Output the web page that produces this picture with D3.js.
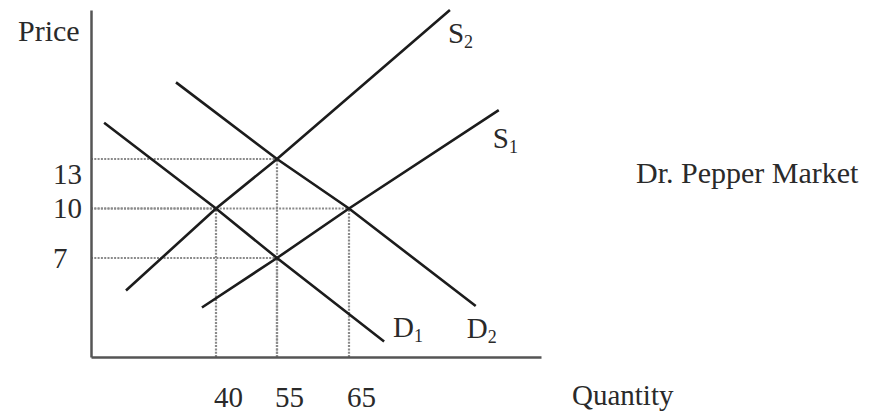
<!DOCTYPE html>
<html>
<head>
<meta charset="utf-8">
<script src="https://d3js.org/d3.v7.min.js"></script>
<style>
  body { margin: 0; background: #fff; }
  text { font-family: "Liberation Serif", "Times New Roman", serif; fill: #2a2a2a; }
</style>
</head>
<body>
<div id="my_dataviz"></div>
<script>
// chart values (schematic supply/demand diagram)
var quantityTicks = [40, 55, 65]
var priceTicks = [13, 10, 7]
var quantityMax = 100
var priceMax = 20

// equilibrium points [quantity, price]
var equilibria = [[40, 10], [55, 13], [55, 7], [65, 10]]

// curves: both ends plus the equilibria they pass through
var curveNames = ["D1", "D2", "S1", "S2"]
var demand1 = [[4.2, 14.7], [40, 10], [55, 7], [71.4, 1.1]]
var demand2 = [[27.2, 16.6], [55, 13], [65, 10], [88.1, 3.6]]
var supply1 = [[35.5, 3.5], [55, 7], [65, 10], [92.3, 15.3]]
var supply2 = [[11.2, 4.7], [40, 10], [55, 13], [83.4, 20.0]]
var curves = [demand1, demand2, supply1, supply2]

// set the dimensions of the graph
var width = 869
    height = 416
    left = 91
    right = 541
    top_ = 10
    bottom = 357

var svg = d3.select("#my_dataviz")
  .append("svg")
    .attr("width", width)
    .attr("height", height)

// the drawing is not to scale, so both scales are piecewise linear
var x = d3.scaleLinear()
  .domain([0].concat(quantityTicks, [quantityMax]))
  .range([left, 216, 277, 349, right])

var y = d3.scaleLinear()
  .domain([0, 7, 13, priceMax])
  .range([bottom, 258, 159, top_])

// dotted guide lines from each equilibrium to the axes
var guides = svg.append("g")
  .attr("fill", "none")
  .attr("stroke", "#8a8a8a")
  .attr("stroke-width", 2.2)
  .attr("stroke-dasharray", "2,1.3")

guides.selectAll("hline")
  .data(equilibria)
  .enter()
  .append("line")
    .attr("x1", x(0))
    .attr("x2", function(d){ return x(d[0]) })
    .attr("y1", function(d){ return y(d[1]) })
    .attr("y2", function(d){ return y(d[1]) })

guides.selectAll("vline")
  .data(equilibria)
  .enter()
  .append("line")
    .attr("x1", function(d){ return x(d[0]) })
    .attr("x2", function(d){ return x(d[0]) })
    .attr("y1", y(0))
    .attr("y2", function(d){ return y(d[1]) })

// axes: no tick marks, only the labels
var xAxis = svg.append("g")
  .attr("transform", "translate(0," + bottom + ")")
  .call(d3.axisBottom(x).tickValues(quantityTicks).tickSize(0).tickSizeOuter(0).tickPadding(29))

xAxis.selectAll("text")
  .attr("dx", 12)

var yAxis = svg.append("g")
  .attr("transform", "translate(" + left + ",0)")
  .call(d3.axisLeft(y).tickValues(priceTicks).tickSize(0).tickSizeOuter(0))

yAxis.selectAll("text")
  .attr("x", 53 - left)
  .attr("text-anchor", "start")
  // the top label sits below its guide line
  .attr("dy", function(d, i){ return i === 0 ? "0.85em" : "0.32em" })

svg.selectAll(".domain")
  .attr("stroke", "#555")
  .attr("stroke-width", 2.5)

svg.selectAll(".tick text")
  .style("font-family", "'Liberation Serif', serif")
  .style("font-size", "29px")
  .attr("fill", "#2a2a2a")

// the curves
var line = d3.line()
  .x(function(d){ return x(d[0]) })
  .y(function(d){ return y(d[1]) })

svg.selectAll("curves")
  .data(curves)
  .enter()
  .append("path")
    .attr("d", line)
    .attr("fill", "none")
    .attr("stroke", "#1c1c1c")
    .attr("stroke-width", 2.6)

// curve names next to their far end
var labelOffset = { D1: [9, -4], D2: [-9, 32], S1: [-6, 38], S2: [-2, 33] }

var names = svg.selectAll("names")
  .data(curves)
  .enter()
  .append("text")
    .attr("x", function(d, i){ return x(d[d.length - 1][0]) + labelOffset[curveNames[i]][0] })
    .attr("y", function(d, i){ return y(d[d.length - 1][1]) + labelOffset[curveNames[i]][1] })
    .style("font-size", "29px")

names.append("tspan")
  .text(function(d, i){ return curveNames[i].charAt(0) })

names.append("tspan")
  .attr("dy", 5)
  .style("font-size", "18px")
  .text(function(d, i){ return curveNames[i].slice(1) })

// titles
svg.append("text")
  .attr("x", 18)
  .attr("y", 41)
  .style("font-size", "30px")
  .text("Price")

svg.append("text")
  .attr("x", 572)
  .attr("y", 405)
  .style("font-size", "29px")
  .text("Quantity")

svg.append("text")
  .attr("x", 636)
  .attr("y", 183)
  .style("font-size", "30px")
  .text("Dr. Pepper Market")
</script>
</body>
</html>
